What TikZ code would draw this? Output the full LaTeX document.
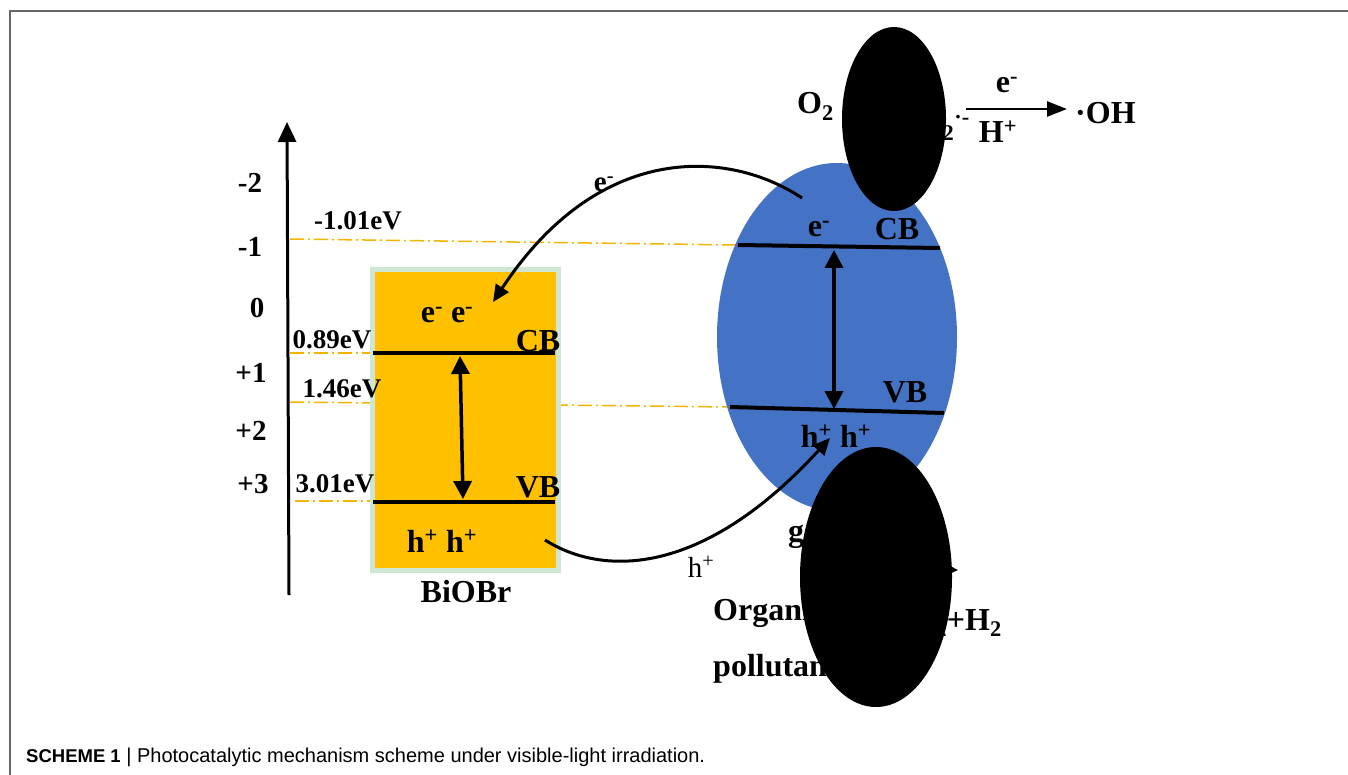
\documentclass[tikz,border=0pt]{standalone}
\usepackage{fontspec}
\setmainfont{Liberation Serif}
\newfontfamily\capfont{Liberation Sans}
\usetikzlibrary{arrows.meta}
\usepackage{xcolor}

\definecolor{bandorange}{HTML}{FFC000}
\definecolor{boxedge}{HTML}{CFE6D2}
\definecolor{gcnblue}{HTML}{4472C4}
\definecolor{refline}{HTML}{F5B400}

\tikzset{
  bandline/.style={line width=4pt},
  refdash/.style={refline, line width=1.5pt, dash pattern=on 14pt off 4pt on 2pt off 4pt},
  big/.style={font=\fontsize{32}{36}\selectfont\bfseries, inner sep=0pt, anchor=base},
  evlbl/.style={font=\fontsize{27}{31}\selectfont\bfseries, inner sep=0pt, anchor=base},
  ticklbl/.style={font=\fontsize{29}{32}\selectfont\bfseries, inner sep=0pt, anchor=base},
  gap/.style={line width=3.5pt, {Triangle[length=18pt,width=18pt]}-{Triangle[length=18pt,width=18pt]}},
  flow/.style={line width=3pt, -{Triangle[length=17pt,width=15pt]}},
}

\begin{document}
\begin{tikzpicture}[x=1pt,y=-1pt]
  \useasboundingbox (0,0) rectangle (1348,775);

  % frame
  \draw[black!60, line width=1.5pt] (10,775) -- (10,11) -- (1348,11);

  % energy axis
  \coordinate (axbot) at (289,595);
  \coordinate (axtop) at (287,122);
  \draw[line width=3pt, -{Triangle[length=20pt,width=18pt]}] (axbot) -- (axtop);
  \node[ticklbl] (tm2) at (250,193) {-2};
  \node[ticklbl] (tm1) at (250,257) {-1};
  \node[ticklbl] (t0)  at (257,318) {0};
  \node[ticklbl] (tp1) at (251,382) {+1};
  \node[ticklbl] (tp2) at (251,440) {+2};
  \node[ticklbl] (tp3) at (253,493) {+3};

  % reference levels
  \draw[refdash] (290,239) -- (738,245);
  \draw[refdash] (290,353) -- (373,353);
  \draw[refdash] (290,402) -- (730,407);
  \draw[refdash] (295,501) -- (373,501);

  % BiOBr
  \draw[boxedge, fill=bandorange, line width=5pt] (372.5,269.5) rectangle (558.5,570.5);
  \coordinate (bcbl) at (373,353);
  \coordinate (bcbr) at (555,353);
  \coordinate (bvbl) at (373,502);
  \coordinate (bvbr) at (555,502);
  \draw[bandline] (bcbl) -- (bcbr);
  \draw[bandline] (bvbl) -- (bvbr);
  \coordinate (bgtop) at (460,356);
  \coordinate (bgbot) at (463,499);
  \draw[gap] (bgtop) -- (bgbot);
  \node[big] (bcb) at (538,351) {CB};
  \node[big] (bvb) at (538,497) {VB};
  \node[big] (bee) at (447,323) {e\textsuperscript{-} e\textsuperscript{-}};
  \node[big] (bhh) at (442,552) {h\textsuperscript{+} h\textsuperscript{+}};
  \node[big] (bname) at (466,602) {BiOBr};

  % level values
  \node[evlbl] (ev1) at (358,230) {-1.01eV};
  \node[evlbl] (ev2) at (332,348) {0.89eV};
  \node[evlbl] (ev3) at (342,397) {1.46eV};
  \node[evlbl] (ev4) at (335,492) {3.01eV};

  % g-C3N4
  \fill[gcnblue] (837,337) ellipse [x radius=120pt, y radius=174pt];
  \coordinate (gcbl) at (738,245);
  \coordinate (gcbr) at (940,248);
  \coordinate (gvbl) at (730,407);
  \coordinate (gvbr) at (944,413);
  \draw[bandline] (gcbl) -- (gcbr);
  \draw[bandline] (gvbl) -- (gvbr);
  \coordinate (ggtop) at (834,250);
  \coordinate (ggbot) at (834,409);
  \draw[gap] (ggtop) -- (ggbot);
  \node[big] (gcb) at (897,240) {CB};
  \node[big] (gvb) at (905,402) {VB};
  \node[big] (ge) at (819,237) {e\textsuperscript{-}};
  \node[big] (ghh) at (836,447) {h\textsuperscript{+} h\textsuperscript{+}};
  \node[big, anchor=base west] (gname) at (788,541) {g-C\textsubscript{3}N\textsubscript{4}};

  % charge transfer
  \coordinate (eout) at (802,198);
  \coordinate (ein) at (493,302);
  \draw[flow] (eout) .. controls (730,150) and (600,140) .. (ein);
  \node[big, font=\fontsize{29}{32}\selectfont\bfseries] (elbl) at (604,192) {e\textsuperscript{-}};
  \coordinate (hout) at (545,540);
  \coordinate (hin) at (830,438);
  \draw[flow] (hout) .. controls (600,575) and (700,580) .. (hin);
  \node[big, font=\fontsize{29}{32}\selectfont] (hlbl) at (701,577) {h\textsuperscript{+}};

  % oxygen side
  \node[big, anchor=base west] (o2) at (797,114) {O\textsubscript{2}};
  \node[big, anchor=base east] (o2rad) at (970,134) {O\textsubscript{2}\textsuperscript{·-}};
  \coordinate (oxa) at (966,109);
  \coordinate (oxb) at (1067,109);
  \draw[line width=2.5pt, -{Triangle[length=20pt,width=15pt]}] (oxa) -- (oxb);
  \node[big] (oxe) at (1007,93) {e\textsuperscript{-}};
  \node[big] (oxh) at (998,143) {H\textsuperscript{+}};
  \node[big, anchor=base west] (oh) at (1075,124) {·OH};

  % pollutant side
  \node[big, anchor=base west] (org1) at (713,620) {Organic};
  \node[big, anchor=base west] (org2) at (713,676) {pollutants};
  \node[big, anchor=base east] (prod) at (1002,630) {CO\textsubscript{2}+H\textsubscript{2}};
  \coordinate (pa) at (840,568);
  \coordinate (pb) at (958,570);
  \draw[line width=2.5pt, -{Triangle[length=16pt,width=15pt]}] (pa) -- (pb);

  % covered spots
  \fill[black] (894,119) ellipse [x radius=52pt, y radius=92pt];
  \fill[black] (876,577) ellipse [x radius=76pt, y radius=130pt];

  % caption
  \node[anchor=base west, inner sep=0pt, font=\capfont\fontsize{20}{24}\selectfont] (cap) at (26,762)
    {{\fontsize{18.5}{22}\selectfont\bfseries SCHEME 1} | Photocatalytic mechanism scheme under visible-light irradiation.};
\end{tikzpicture}
\end{document}
